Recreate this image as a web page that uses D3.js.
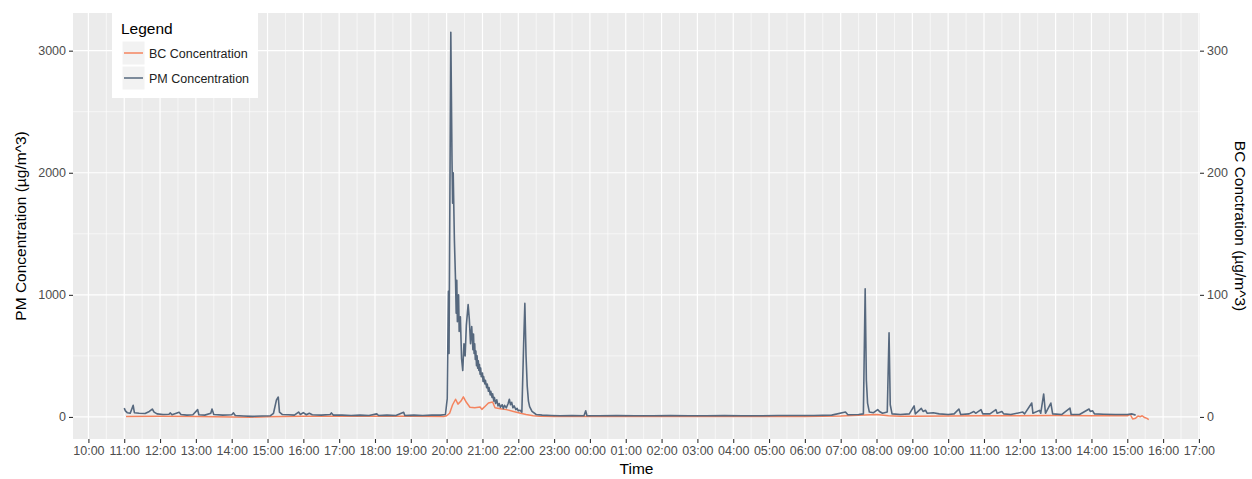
<!DOCTYPE html>
<html>
<head>
<meta charset="utf-8">
<script src="https://cdn.jsdelivr.net/npm/d3@7"></script>
<style>
  body { margin: 0; background: #fff; }
  text { font-family: "Liberation Sans", Arial, sans-serif; }
</style>
</head>
<body>
<svg id="chart" width="1252" height="479"></svg>
<script>
const svg = d3.select("#chart");
const width = +svg.attr("width");
const height = +svg.attr("height");
const margin = { top: 13, right: 52, bottom: 40, left: 73 };

// "day HH:MM" readings, PM in µg/m^3
const pmSeries = [
  ["1 11:00", 72], ["1 11:02", 50], ["1 11:05", 35], ["1 11:10", 30], ["1 11:15", 95], ["1 11:17", 35],
  ["1 11:25", 30], ["1 11:35", 28], ["1 11:42", 45], ["1 11:47", 65], ["1 11:50", 40], ["1 11:55", 25],
  ["1 12:05", 20], ["1 12:15", 22], ["1 12:17", 33], ["1 12:20", 18], ["1 12:32", 38], ["1 12:35", 20],
  ["1 12:45", 15], ["1 12:55", 18], ["1 13:03", 60], ["1 13:05", 18], ["1 13:15", 15], ["1 13:25", 30],
  ["1 13:27", 65], ["1 13:30", 20], ["1 13:45", 15], ["1 14:00", 18], ["1 14:03", 33], ["1 14:06", 12],
  ["1 14:20", 8], ["1 14:35", 5], ["1 14:50", 8], ["1 15:05", 10], ["1 15:10", 30], ["1 15:15", 140],
  ["1 15:18", 163], ["1 15:20", 40], ["1 15:25", 20], ["1 15:35", 18], ["1 15:45", 15], ["1 15:52", 40],
  ["1 15:55", 20], ["1 16:00", 35], ["1 16:05", 18], ["1 16:10", 30], ["1 16:15", 18], ["1 16:30", 15],
  ["1 16:45", 20], ["1 16:47", 33], ["1 16:50", 15], ["1 17:05", 15], ["1 17:20", 12], ["1 17:35", 15],
  ["1 17:50", 12], ["1 18:03", 25], ["1 18:06", 12], ["1 18:20", 15], ["1 18:35", 12], ["1 18:48", 38],
  ["1 18:50", 12], ["1 19:05", 15], ["1 19:20", 12], ["1 19:35", 15], ["1 19:50", 15], ["1 19:58", 20],
  ["1 20:01", 150], ["1 20:03", 1030], ["1 20:04", 520], ["1 20:07", 3150], ["1 20:09", 2100], ["1 20:10", 1750],
  ["1 20:11", 2000], ["1 20:13", 1450], ["1 20:15", 1100], ["1 20:16", 850], ["1 20:17", 1120], ["1 20:18", 780],
  ["1 20:20", 1000], ["1 20:21", 700], ["1 20:23", 820], ["1 20:25", 480], ["1 20:27", 380], ["1 20:29", 600],
  ["1 20:31", 500], ["1 20:33", 750], ["1 20:36", 920], ["1 20:38", 800], ["1 20:40", 600], ["1 20:42", 740],
  ["1 20:44", 550], ["1 20:45", 680], ["1 20:46", 520], ["1 20:47", 600], ["1 20:48", 470], ["1 20:49", 540],
  ["1 20:50", 420], ["1 20:51", 500], ["1 20:52", 400], ["1 20:53", 460], ["1 20:54", 380], ["1 20:55", 430],
  ["1 20:56", 350], ["1 20:57", 400], ["1 20:58", 330], ["1 21:00", 360], ["1 21:01", 290], ["1 21:02", 330],
  ["1 21:04", 270], ["1 21:05", 300], ["1 21:07", 240], ["1 21:08", 270], ["1 21:10", 210], ["1 21:11", 240],
  ["1 21:13", 180], ["1 21:14", 210], ["1 21:16", 160], ["1 21:17", 190], ["1 21:19", 130], ["1 21:20", 160],
  ["1 21:22", 110], ["1 21:24", 140], ["1 21:26", 90], ["1 21:28", 110], ["1 21:30", 80], ["1 21:33", 100],
  ["1 21:35", 70], ["1 21:37", 95], ["1 21:40", 75], ["1 21:43", 110], ["1 21:45", 145], ["1 21:47", 100],
  ["1 21:49", 120], ["1 21:51", 75], ["1 21:53", 90], ["1 21:56", 60], ["1 21:58", 70], ["1 22:00", 50],
  ["1 22:03", 55], ["1 22:06", 40], ["1 22:09", 600], ["1 22:11", 930], ["1 22:13", 500], ["1 22:15", 250],
  ["1 22:17", 130], ["1 22:19", 85], ["1 22:23", 45], ["1 22:30", 20], ["1 22:40", 15], ["1 22:55", 12],
  ["1 23:10", 10], ["1 23:30", 12], ["1 23:50", 10], ["1 23:53", 50], ["1 23:55", 10], ["2 00:15", 10],
  ["2 00:45", 12], ["2 01:15", 10], ["2 01:45", 10], ["2 02:15", 12], ["2 02:45", 10], ["2 03:15", 10],
  ["2 03:45", 12], ["2 04:15", 10], ["2 04:45", 10], ["2 05:15", 12], ["2 05:45", 12], ["2 06:15", 12],
  ["2 06:45", 15], ["2 07:08", 40], ["2 07:12", 18], ["2 07:30", 20], ["2 07:38", 25], ["2 07:41", 1050],
  ["2 07:43", 300], ["2 07:45", 114], ["2 07:48", 40], ["2 07:55", 35], ["2 08:02", 60], ["2 08:05", 45],
  ["2 08:10", 30], ["2 08:18", 40], ["2 08:21", 690], ["2 08:23", 100], ["2 08:26", 25], ["2 08:40", 20],
  ["2 08:55", 25], ["2 09:03", 90], ["2 09:05", 25], ["2 09:15", 70], ["2 09:18", 45], ["2 09:22", 55],
  ["2 09:25", 30], ["2 09:35", 35], ["2 09:45", 25], ["2 10:00", 20], ["2 10:10", 25], ["2 10:18", 65],
  ["2 10:21", 20], ["2 10:35", 25], ["2 10:43", 45], ["2 10:46", 30], ["2 10:55", 60], ["2 10:58", 25],
  ["2 11:10", 25], ["2 11:20", 60], ["2 11:22", 30], ["2 11:30", 45], ["2 11:33", 25], ["2 11:45", 20],
  ["2 12:05", 40], ["2 12:08", 25], ["2 12:20", 114], ["2 12:22", 30], ["2 12:33", 54], ["2 12:35", 30],
  ["2 12:40", 188], ["2 12:43", 30], ["2 12:52", 114], ["2 12:55", 25], ["2 13:10", 20], ["2 13:24", 73],
  ["2 13:26", 20], ["2 13:40", 20], ["2 13:56", 65], ["2 13:58", 45], ["2 14:02", 50], ["2 14:05", 25],
  ["2 14:20", 22], ["2 14:40", 20], ["2 15:00", 20], ["2 15:08", 25], ["2 15:14", 15]
];

// BC in µg/m^3 (plotted on the secondary axis, x10)
const bcSeries = [
  ["1 11:03", 0.3], ["1 12:00", 0.5], ["1 13:00", 0.3], ["1 14:00", 0.0], ["1 14:30", -0.3], ["1 15:00", 0.2],
  ["1 16:00", 0.6], ["1 17:00", 0.6], ["1 18:00", 0.5], ["1 19:00", 0.5], ["1 19:55", 0.4], ["1 20:00", 1.0],
  ["1 20:05", 3], ["1 20:10", 10], ["1 20:15", 14.5], ["1 20:19", 10.5], ["1 20:24", 13], ["1 20:28", 16.5],
  ["1 20:33", 12], ["1 20:39", 8], ["1 20:47", 7.5], ["1 20:56", 8.2], ["1 20:59", 6.2], ["1 21:05", 9],
  ["1 21:10", 11.4], ["1 21:17", 12.2], ["1 21:21", 7.5], ["1 21:30", 6.8], ["1 21:40", 6], ["1 21:52", 4.5],
  ["1 22:02", 3.3], ["1 22:13", 2], ["1 22:25", 1], ["1 22:36", 0.5], ["1 23:00", 0.3], ["2 01:00", 0.3],
  ["2 03:00", 0.3], ["2 05:00", 0.3], ["2 06:00", 0.4], ["2 07:00", 0.8], ["2 07:40", 1.5], ["2 08:00", 2.0],
  ["2 08:20", 1.0], ["2 08:40", 0.5], ["2 09:00", 0.6], ["2 10:00", 0.8], ["2 11:00", 1.0], ["2 12:00", 1.0],
  ["2 13:00", 1.2], ["2 14:00", 1.0], ["2 15:00", 1.0], ["2 15:05", 2], ["2 15:09", -1.6], ["2 15:14", -1],
  ["2 15:18", 0.8], ["2 15:22", 0.2], ["2 15:25", 1.0], ["2 15:29", -0.5], ["2 15:33", -1.2], ["2 15:36", -2.2]
];

const pmTicks = [0, 1000, 2000, 3000];
const bcTicks = [0, 100, 200, 300];
const legendLabels = ["BC Concentration", "PM Concentration"];
const bcScale = 10;

const parse = d3.utcParse("%d %H:%M");
const pm = pmSeries.map(d => ({ t: parse(d[0]), v: d[1] }));
const bc = bcSeries.map(d => ({ t: parse(d[0]), v: d[1] * bcScale }));
const all = pm.concat(bc);

// ggplot style 5% expansion
const tExt = d3.extent(all, d => d.t);
const tPad = (tExt[1] - tExt[0]) * 0.05;
const x = d3.scaleUtc()
  .domain([new Date(+tExt[0] - tPad), new Date(+tExt[1] + tPad)])
  .range([margin.left, width - margin.right]);

const vExt = d3.extent(all, d => d.v);
const vPad = (vExt[1] - vExt[0]) * 0.05;
const y = d3.scaleLinear()
  .domain([vExt[0] - vPad, vExt[1] + vPad])
  .range([height - margin.bottom, margin.top]);

const pw = width - margin.left - margin.right;
const ph = height - margin.top - margin.bottom;

// panel
svg.append("rect")
  .attr("x", margin.left).attr("y", margin.top)
  .attr("width", pw).attr("height", ph)
  .attr("fill", "#EBEBEB");

const hourTicks = d3.utcHour.every(1).range(parse("1 10:00"), parse("2 17:01"));
const halfTicks = d3.utcMinute.every(30).range(x.domain()[0], x.domain()[1])
  .filter(d => d.getUTCMinutes() === 30);

const grid = svg.append("g");
grid.selectAll(".vmin").data(halfTicks).enter().append("line")
  .attr("x1", d => x(d)).attr("x2", d => x(d))
  .attr("y1", margin.top).attr("y2", margin.top + ph)
  .attr("stroke", "#fff").attr("stroke-width", 0.6);
grid.selectAll(".hmin").data([500, 1500, 2500]).enter().append("line")
  .attr("x1", margin.left).attr("x2", margin.left + pw)
  .attr("y1", d => y(d)).attr("y2", d => y(d))
  .attr("stroke", "#fff").attr("stroke-width", 0.6);
grid.selectAll(".vmaj").data(hourTicks.filter(d => x(d) <= margin.left + pw)).enter().append("line")
  .attr("x1", d => x(d)).attr("x2", d => x(d))
  .attr("y1", margin.top).attr("y2", margin.top + ph)
  .attr("stroke", "#fff").attr("stroke-width", 1.2);
grid.selectAll(".hmaj").data(pmTicks).enter().append("line")
  .attr("x1", margin.left).attr("x2", margin.left + pw)
  .attr("y1", d => y(d)).attr("y2", d => y(d))
  .attr("stroke", "#fff").attr("stroke-width", 1.2);

// lines
const line = d3.line().x(d => x(d.t)).y(d => y(d.v));
svg.append("path").datum(bc)
  .attr("d", line).attr("fill", "none")
  .attr("stroke", "#f4845f").attr("stroke-width", 1.5).attr("stroke-linejoin", "round");
svg.append("path").datum(pm)
  .attr("d", line).attr("fill", "none")
  .attr("stroke", "#56687e").attr("stroke-width", 1.6).attr("stroke-linejoin", "round");

// axes
function styleAxis(g) {
  g.select(".domain").remove();
  g.selectAll(".tick line").attr("stroke", "#333").attr("stroke-width", 1.1);
  g.selectAll(".tick text").attr("fill", "#4D4D4D").attr("font-size", "12.5px");
}

svg.append("g")
  .attr("transform", `translate(0,${margin.top + ph})`)
  .call(d3.axisBottom(x).tickValues(hourTicks).tickFormat(d3.utcFormat("%H:%M")).tickSize(4).tickPadding(3))
  .call(styleAxis);

svg.append("g")
  .attr("transform", `translate(${margin.left},0)`)
  .call(d3.axisLeft(y).tickValues(pmTicks).tickFormat(d3.format("d")).tickSize(4).tickPadding(3))
  .call(styleAxis);

const yBC = y.copy().domain(y.domain().map(v => v / bcScale));
svg.append("g")
  .attr("transform", `translate(${margin.left + pw},0)`)
  .call(d3.axisRight(yBC).tickValues(bcTicks).tickFormat(d3.format("d")).tickSize(4).tickPadding(3))
  .call(styleAxis);

// titles
svg.append("text")
  .attr("x", margin.left + pw / 2).attr("y", 474)
  .attr("text-anchor", "middle").attr("font-size", "15.5px")
  .text("Time");

svg.append("text")
  .attr("transform", `translate(26,${margin.top + ph / 2}) rotate(-90)`)
  .attr("text-anchor", "middle").attr("font-size", "15.5px")
  .text("PM Concentration (µg/m^3)");

svg.append("text")
  .attr("transform", `translate(1235,${margin.top + ph / 2}) rotate(90)`)
  .attr("text-anchor", "middle").attr("font-size", "15.5px")
  .text("BC Conctration (µg/m^3)");

// legend
const legend = svg.append("g").attr("transform", "translate(112,13)");
legend.append("rect")
  .attr("width", 146).attr("height", 85).attr("fill", "#fff");
legend.append("text")
  .attr("x", 9).attr("y", 21).attr("font-size", "15.5px")
  .text("Legend");

const legendColor = d3.scaleOrdinal().domain(legendLabels).range(["#f4845f", "#56687e"]);
const items = legend.selectAll(".item").data(legendLabels).enter().append("g")
  .attr("transform", (d, i) => `translate(10,${28 + i * 25})`);
items.append("rect")
  .attr("width", 23).attr("height", 24).attr("fill", "#F2F2F2")
  .attr("stroke", "#fff").attr("stroke-width", 1);
items.append("line")
  .attr("x1", 2).attr("x2", 21).attr("y1", 12).attr("y2", 12)
  .attr("stroke", d => legendColor(d)).attr("stroke-width", 1.5);
items.append("text")
  .attr("x", 27).attr("y", 16.5).attr("font-size", "12.5px").attr("fill", "#222")
  .text(d => d);
</script>
</body>
</html>
